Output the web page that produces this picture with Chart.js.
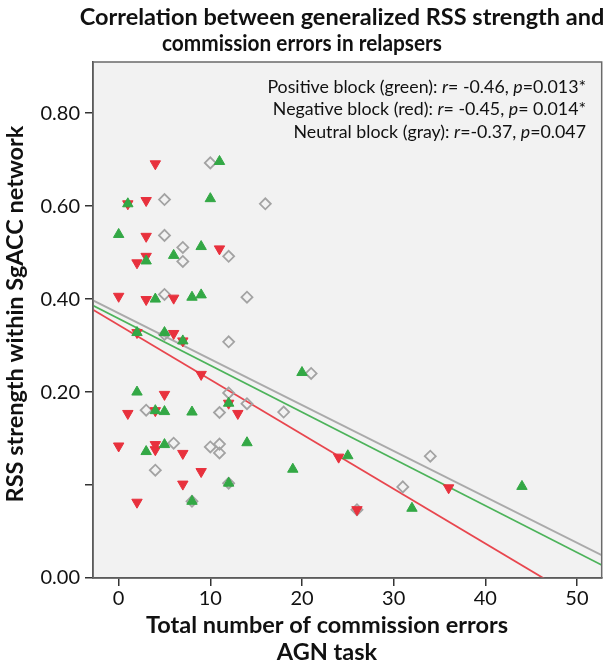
<!DOCTYPE html>
<html>
<head>
<meta charset="utf-8">
<script src="https://cdn.jsdelivr.net/npm/chart.js@4/dist/chart.umd.min.js"></script>
<style>
  html, body { margin: 0; padding: 0; background: #fff; }
  #wrap { width: 609px; height: 666px; position: relative; }
</style>
</head>
<body>
<div id="wrap"><canvas id="corrChart"></canvas></div>
<script>
// commission errors (x) and RSS strength (y) per block
const greenX = [11, 1, 10, 0, 9, 3, 6, 4, 8, 9, 2, 5, 7, 20, 2, 4, 5, 8, 12, 14, 5, 3, 25, 19, 12, 8, 44, 32];
const greenY = [0.696, 0.605, 0.616, 0.539, 0.513, 0.482, 0.494, 0.400, 0.404, 0.409, 0.328, 0.328, 0.310, 0.242,
  0.200, 0.160, 0.158, 0.157, 0.176, 0.091, 0.087, 0.072, 0.063, 0.034, 0.004, -0.035, -0.003, -0.050];

const redX = [4, 1, 3, 11, 3, 3, 2, 0, 3, 6, 2, 6, 7, 9, 5, 1, 4, 13, 12, 0, 4, 4, 7, 9, 7, 2, 24, 36, 26];
const redY = [0.691, 0.605, 0.612, 0.508, 0.535, 0.492, 0.478, 0.406, 0.399, 0.402, 0.328, 0.326, 0.310, 0.238,
  0.195, 0.154, 0.160, 0.154, 0.176, 0.084, 0.087, 0.076, 0.068, 0.029, 0.002, -0.037, 0.060, -0.006, -0.053];

const grayX = [10, 5, 16, 5, 7, 12, 7, 5, 14, 5, 12, 12, 3, 11, 14, 18, 6, 10, 11, 11, 4, 12, 8, 21, 34, 31, 26];
const grayY = [0.693, 0.614, 0.605, 0.537, 0.511, 0.492, 0.481, 0.410, 0.404, 0.324, 0.308, 0.198, 0.161, 0.156,
  0.175, 0.157, 0.090, 0.082, 0.088, 0.069, 0.032, 0.004, -0.035, 0.240, 0.062, -0.004, -0.053];

// fitted lines, endpoints at the axis limits
const lineX = [-2.8, 52.7];
const greenLineY = [0.386, -0.172];
const redLineY = [0.377, -0.275];
const grayLineY = [0.397, -0.151];

const xTicks = [0, 10, 20, 30, 40, 50];
const yTickLabels = ["0.00", "", "0.20", "0.40", "0.60", "0.80"];

const titleLines = ["Correlation between generalized RSS strength and", "commission errors in relapsers"];
const xTitleLines = ["Total number of commission errors", "AGN task"];
const yTitle = "RSS strength within SgACC network";
const statsLines = [
  [["Positive block (green): ", false], ["r", true], ["= -0.46, ", false], ["p", true], ["=0.013*", false]],
  [["Negative block (red): ", false], ["r", true], ["= -0.45, ", false], ["p", true], ["= 0.014*", false]],
  [["Neutral block (gray): ", false], ["r", true], ["=-0.37, ", false], ["p", true], ["=0.047", false]]
];

const FONT = "Lato, 'Open Sans', sans-serif";
const pts = (xs, ys) => xs.map((x, i) => ({ x: x, y: ys[i] }));

const textPlugin = {
  id: "textPlugin",
  beforeDraw(chart) {
    const { ctx, chartArea: a } = chart;
    ctx.save();
    ctx.fillStyle = "#f2f2f2";
    ctx.fillRect(a.left, a.top, a.right - a.left, a.bottom - a.top);
    ctx.restore();
  },
  afterDraw(chart) {
    const { ctx, chartArea: a } = chart;
    ctx.save();
    // frame
    ctx.strokeStyle = "#6a6a6a";
    ctx.lineWidth = 1.5;
    ctx.strokeRect(a.left, a.top, a.right - a.left, a.bottom - a.top);

    ctx.fillStyle = "#111";
    ctx.textBaseline = "middle";
    ctx.textAlign = "center";
    ctx.font = "bold 23.5px " + FONT;
    ctx.fillText(titleLines[0], 342, 17);
    ctx.fillText(titleLines[1], 302, 43, 280);

    ctx.fillText(xTitleLines[0], 327, 625);
    ctx.fillText(xTitleLines[1], 327, 652);

    ctx.save();
    ctx.translate(15, 314);
    ctx.rotate(-Math.PI / 2);
    ctx.fillText(yTitle, 0, 0);
    ctx.restore();

    // stats box text, right aligned with italic r / p
    const right = 586;
    const rowsY = [87, 109, 132];
    ctx.textAlign = "left";
    statsLines.forEach((segs, i) => {
      let w = 0;
      segs.forEach(s => {
        ctx.font = (s[1] ? "italic " : "") + "17.8px " + FONT;
        w += ctx.measureText(s[0]).width;
      });
      let x = right - w;
      segs.forEach(s => {
        ctx.font = (s[1] ? "italic " : "") + "17.8px " + FONT;
        ctx.fillText(s[0], x, rowsY[i]);
        x += ctx.measureText(s[0]).width;
      });
    });
    ctx.restore();
  }
};

const ctx = document.getElementById("corrChart").getContext("2d");
new Chart(ctx, {
  type: "scatter",
  data: {
    datasets: [
      {
        label: "Positive block (green)",
        data: pts(greenX, greenY),
        pointStyle: "triangle",
        pointRadius: 6,
        backgroundColor: "#33a845",
        borderColor: "#33a845",
        borderWidth: 1,
        order: 1
      },
      {
        label: "Negative block (red)",
        data: pts(redX, redY),
        pointStyle: "triangle",
        rotation: 180,
        pointRadius: 6,
        backgroundColor: "#e8313d",
        borderColor: "#e8313d",
        borderWidth: 1,
        order: 2
      },
      {
        label: "Neutral block (gray)",
        data: pts(grayX, grayY),
        pointStyle: "rectRot",
        pointRadius: 5.5,
        backgroundColor: "rgba(0,0,0,0)",
        borderColor: "#a3a3a3",
        borderWidth: 1.8,
        order: 3
      },
      {
        type: "line",
        data: pts(lineX, grayLineY),
        borderColor: "#aaaaaa",
        borderWidth: 2,
        pointRadius: 0,
        order: 6
      },
      {
        type: "line",
        data: pts(lineX, greenLineY),
        borderColor: "#4cb35a",
        borderWidth: 1.8,
        pointRadius: 0,
        order: 5
      },
      {
        type: "line",
        data: pts(lineX, redLineY),
        borderColor: "#e8464e",
        borderWidth: 1.8,
        pointRadius: 0,
        order: 4
      }
    ]
  },
  options: {
    responsive: true,
    maintainAspectRatio: false,
    animation: false,
    layout: { padding: { top: 62, right: 4, left: 0, bottom: 0 } },
    plugins: {
      legend: { display: false },
      tooltip: { enabled: false },
      title: { display: false }
    },
    scales: {
      x: {
        type: "linear",
        min: -2.8,
        max: 52.7,
        afterFit: s => { s.height = 88; },
        afterBuildTicks: s => { s.ticks = xTicks.map(v => ({ value: v })); },
        ticks: {
          font: { family: FONT, size: 20 },
          color: "#111",
          padding: 1
        },
        grid: { drawOnChartArea: false, tickLength: 8, color: "#333", lineWidth: 1.5 },
        border: { color: "#333", width: 1.5 }
      },
      y: {
        type: "linear",
        min: -0.2,
        max: 0.91,
        afterFit: s => { s.width = 93; },
        afterBuildTicks: s => { s.ticks = yTickLabels.map((t, i) => ({ value: -0.2 + i * 0.2 })); },
        ticks: {
          font: { family: FONT, size: 20 },
          color: "#111",
          padding: 5,
          callback: (v, i) => yTickLabels[i]
        },
        grid: { drawOnChartArea: false, tickLength: 8, color: "#333", lineWidth: 1.5 },
        border: { color: "#333", width: 1.5 }
      }
    }
  },
  plugins: [textPlugin]
});
</script>
</body>
</html>
